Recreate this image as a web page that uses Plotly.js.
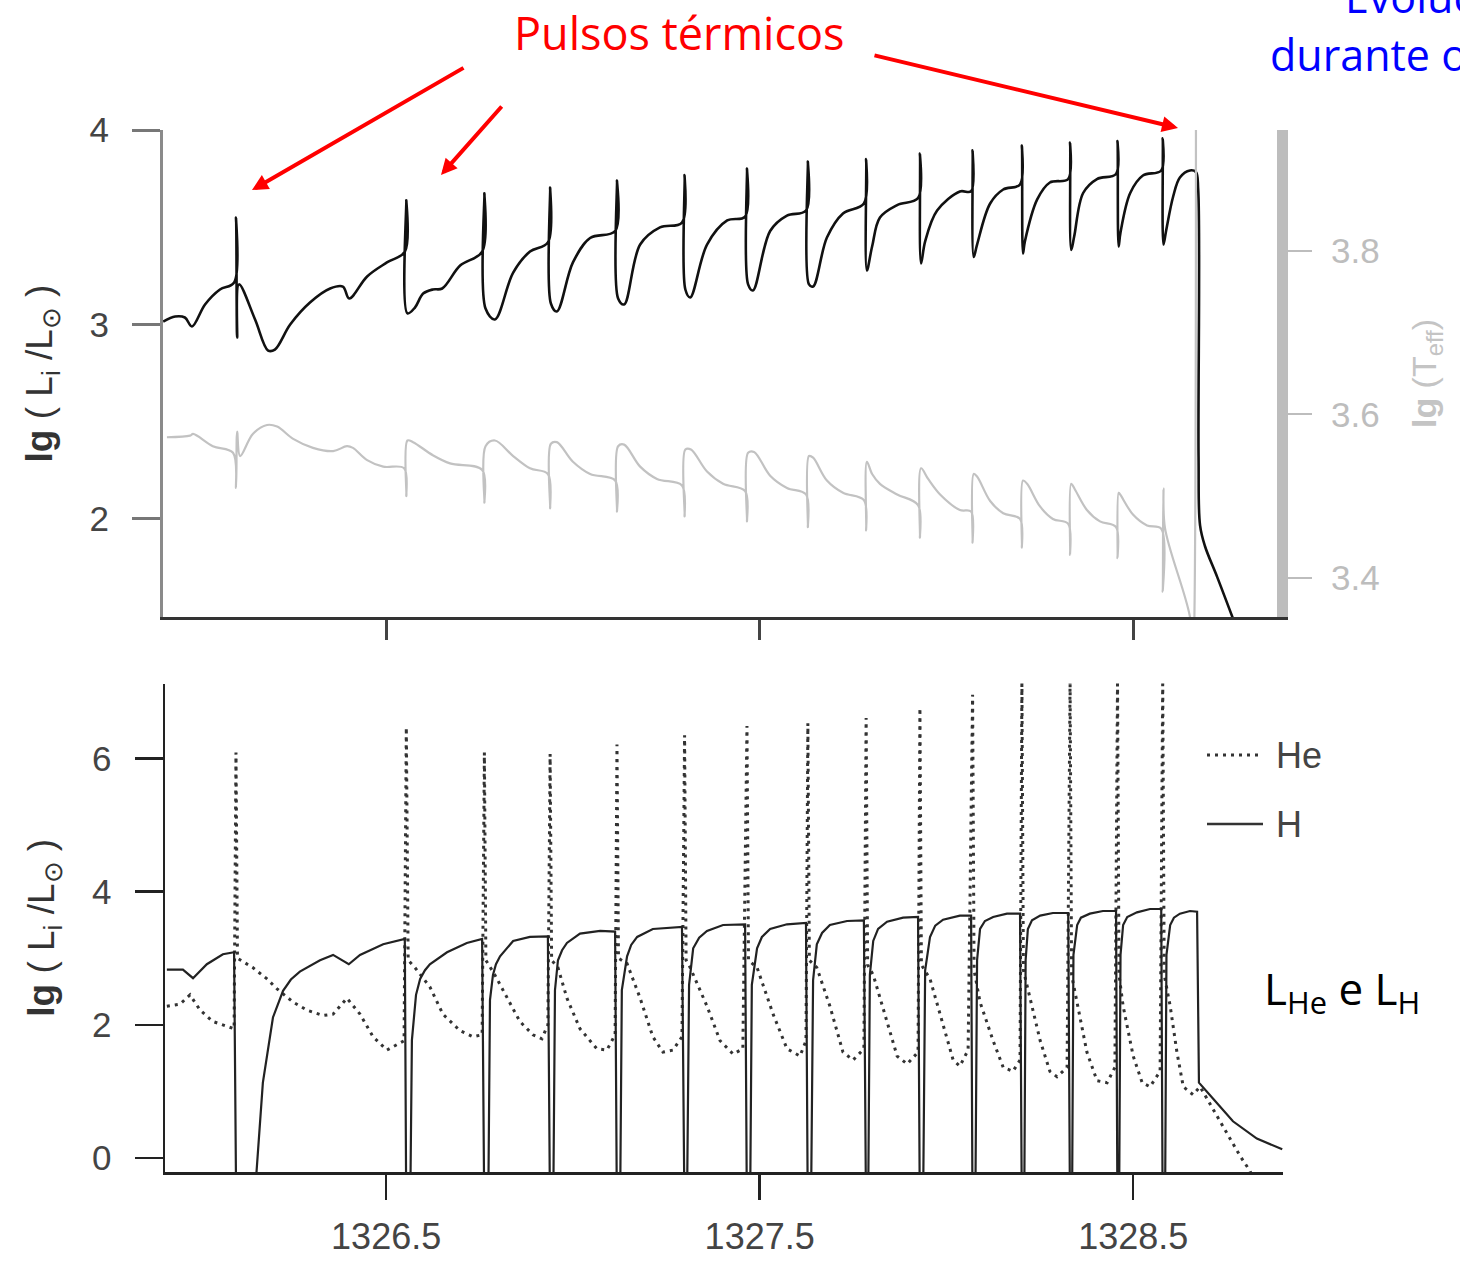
<!DOCTYPE html>
<html><head><meta charset="utf-8">
<script src="https://cdn.plot.ly/plotly-3.0.1.min.js"></script>
<style>html,body{margin:0;padding:0;background:#fff}#chart{width:1460px;height:1261px}</style>
</head><body><div id="chart"></div>
<script>
// ---------- DATA ----------
// Top panel: surface luminosity lg(L/Lsun) vs time
const lumTime = [1325.903, 1325.935, 1325.961, 1325.980, 1326.015, 1326.055, 1326.093,
 1326.098, 1326.101, 1326.106, 1326.149, 1326.184, 1326.202, 1326.243, 1326.296, 1326.350, 1326.384, 1326.401, 1326.449, 1326.502, 1326.550,
 1326.554, 1326.557, 1326.577, 1326.599, 1326.625, 1326.650, 1326.698, 1326.757,
 1326.763, 1326.766, 1326.791, 1326.840, 1326.885, 1326.933,
 1326.939, 1326.941, 1326.957, 1327.000, 1327.046, 1327.113,
 1327.118, 1327.121, 1327.137, 1327.180, 1327.233, 1327.292,
 1327.299, 1327.301, 1327.314, 1327.359, 1327.413, 1327.461,
 1327.466, 1327.469, 1327.482, 1327.528, 1327.573, 1327.624,
 1327.629, 1327.632, 1327.643, 1327.680, 1327.723, 1327.779,
 1327.785, 1327.787, 1327.801, 1327.822, 1327.868, 1327.924,
 1327.929, 1327.932, 1327.943, 1327.975, 1328.036, 1328.066,
 1328.070, 1328.073, 1328.082, 1328.117, 1328.152, 1328.197,
 1328.202, 1328.205, 1328.210, 1328.243, 1328.277, 1328.326,
 1328.331, 1328.334, 1328.342, 1328.366, 1328.403, 1328.454,
 1328.458, 1328.461, 1328.466, 1328.492, 1328.526, 1328.575,
 1328.579, 1328.581, 1328.588, 1328.607, 1328.625, 1328.652, 1328.668,
 1328.674, 1328.675, 1328.679, 1328.692, 1328.725, 1328.773];
const lumValue = [3.015, 3.041, 3.036, 2.990, 3.103, 3.180, 3.216,
 3.550, 2.933, 3.206, 3.026, 2.866, 2.871, 3.000, 3.113, 3.185, 3.195, 3.134, 3.247, 3.319, 3.375,
 3.638, 3.057, 3.087, 3.159, 3.180, 3.185, 3.303, 3.375,
 3.674, 3.082, 3.026, 3.267, 3.375, 3.422,
 3.704, 3.108, 3.067, 3.319, 3.445, 3.481,
 3.740, 3.134, 3.103, 3.411, 3.499, 3.524,
 3.769, 3.180, 3.139, 3.411, 3.535, 3.555,
 3.802, 3.206, 3.175, 3.481, 3.560, 3.586,
 3.838, 3.206, 3.195, 3.447, 3.571, 3.622,
 3.851, 3.278, 3.401, 3.550, 3.614, 3.650,
 3.879, 3.314, 3.427, 3.586, 3.684, 3.685,
 3.895, 3.347, 3.411, 3.622, 3.694, 3.720,
 3.920, 3.365, 3.427, 3.643, 3.730, 3.748,
 3.936, 3.383, 3.452, 3.676, 3.748, 3.774,
 3.943, 3.401, 3.473, 3.676, 3.766, 3.792,
 3.957, 3.411, 3.481, 3.658, 3.756, 3.792, 3.783,
 3.694, 2.316, 1.967, 1.861, 1.701, 1.458];

// Top panel: effective temperature lg(Teff) (right axis)
const teffTime = [1325.913, 1325.975, 1325.983, 1326.036, 1326.090,
 1326.098, 1326.101, 1326.109, 1326.143, 1326.181, 1326.208, 1326.251, 1326.304, 1326.358, 1326.395, 1326.411, 1326.449, 1326.492, 1326.548,
 1326.554, 1326.557, 1326.572, 1326.625, 1326.671, 1326.757,
 1326.763, 1326.766, 1326.791, 1326.840, 1326.885, 1326.933,
 1326.939, 1326.941, 1326.957, 1327.000, 1327.046, 1327.113,
 1327.118, 1327.121, 1327.137, 1327.180, 1327.225, 1327.292,
 1327.299, 1327.301, 1327.316, 1327.359, 1327.402, 1327.461,
 1327.466, 1327.469, 1327.485, 1327.528, 1327.573, 1327.624,
 1327.629, 1327.632, 1327.643, 1327.680, 1327.723, 1327.779,
 1327.785, 1327.787, 1327.801, 1327.822, 1327.868, 1327.924,
 1327.929, 1327.932, 1327.951, 1327.983, 1328.036, 1328.066,
 1328.070, 1328.073, 1328.082, 1328.117, 1328.152, 1328.197,
 1328.202, 1328.205, 1328.216, 1328.251, 1328.285, 1328.326,
 1328.331, 1328.334, 1328.344, 1328.376, 1328.411, 1328.454,
 1328.458, 1328.461, 1328.465, 1328.500, 1328.537, 1328.575,
 1328.579, 1328.581, 1328.585, 1328.652, 1328.660, 1328.668];
const teffValue = [3.572, 3.574, 3.576, 3.561, 3.553,
 3.510, 3.579, 3.549, 3.576, 3.587, 3.585, 3.570, 3.559, 3.555, 3.561, 3.559, 3.544, 3.536, 3.534,
 3.500, 3.568, 3.566, 3.550, 3.540, 3.532,
 3.492, 3.561, 3.568, 3.549, 3.534, 3.527,
 3.485, 3.564, 3.566, 3.542, 3.527, 3.519,
 3.481, 3.561, 3.563, 3.536, 3.521, 3.513,
 3.475, 3.557, 3.557, 3.530, 3.515, 3.506,
 3.469, 3.553, 3.554, 3.525, 3.510, 3.502,
 3.462, 3.549, 3.547, 3.519, 3.504, 3.495,
 3.458, 3.542, 3.527, 3.515, 3.502, 3.489,
 3.449, 3.534, 3.521, 3.502, 3.483, 3.481,
 3.443, 3.527, 3.524, 3.494, 3.479, 3.472,
 3.437, 3.519, 3.515, 3.487, 3.472, 3.466,
 3.428, 3.515, 3.508, 3.483, 3.469, 3.462,
 3.424, 3.504, 3.502, 3.477, 3.464, 3.460,
 3.383, 3.509, 3.461, 3.352, 3.300, 3.985];

// Bottom panel: helium-burning luminosity (dotted)
const heTime = [1325.913, 1325.948, 1325.975, 1326.002, 1326.036, 1326.093,
 1326.098, 1326.102, 1326.143, 1326.181, 1326.208, 1326.251, 1326.288, 1326.331, 1326.358, 1326.395, 1326.430, 1326.465, 1326.502, 1326.548,
 1326.554, 1326.559, 1326.577, 1326.617, 1326.652, 1326.698, 1326.733, 1326.757,
 1326.763, 1326.767, 1326.791, 1326.824, 1326.858, 1326.893, 1326.917, 1326.933,
 1326.939, 1326.943, 1326.960, 1326.984, 1327.019, 1327.064, 1327.091, 1327.113,
 1327.118, 1327.122, 1327.145, 1327.180, 1327.214, 1327.241, 1327.268, 1327.292,
 1327.299, 1327.303, 1327.314, 1327.359, 1327.394, 1327.429, 1327.455,
 1327.466, 1327.470, 1327.493, 1327.536, 1327.573, 1327.608, 1327.624,
 1327.629, 1327.633, 1327.653, 1327.688, 1327.723, 1327.750, 1327.779,
 1327.785, 1327.789, 1327.804, 1327.841, 1327.868, 1327.895, 1327.924,
 1327.929, 1327.933, 1327.956, 1327.991, 1328.018, 1328.036, 1328.058,
 1328.070, 1328.074, 1328.090, 1328.125, 1328.152, 1328.178, 1328.197,
 1328.202, 1328.206, 1328.224, 1328.251, 1328.277, 1328.296, 1328.323,
 1328.331, 1328.335, 1328.352, 1328.376, 1328.403, 1328.430, 1328.451,
 1328.458, 1328.462, 1328.473, 1328.500, 1328.524, 1328.545, 1328.572,
 1328.579, 1328.583, 1328.599, 1328.617, 1328.634, 1328.660, 1328.679, 1328.714, 1328.751, 1328.786, 1328.813, 1328.840];
const heValue = [2.28, 2.31, 2.45, 2.22, 2.05, 1.94,
 6.09, 3.00, 2.86, 2.69, 2.54, 2.34, 2.22, 2.14, 2.16, 2.40, 2.16, 1.82, 1.62, 1.76,
 6.47, 2.97, 2.86, 2.57, 2.16, 1.91, 1.82, 1.85,
 6.09, 2.97, 2.75, 2.40, 2.05, 1.85, 1.79, 2.00,
 6.07, 2.97, 2.86, 2.40, 1.94, 1.64, 1.62, 1.85,
 6.21, 3.00, 2.92, 2.40, 1.82, 1.59, 1.62, 1.82,
 6.35, 2.97, 2.86, 2.28, 1.76, 1.56, 1.64,
 6.49, 2.97, 2.86, 2.16, 1.64, 1.53, 1.76,
 6.53, 2.97, 2.86, 2.28, 1.59, 1.47, 1.64,
 6.61, 2.90, 2.75, 2.05, 1.53, 1.41, 1.59,
 6.76, 2.90, 2.69, 1.99, 1.47, 1.38, 1.62,
 6.96, 2.82, 2.34, 1.76, 1.36, 1.30, 1.47,
 7.18, 2.82, 2.40, 1.76, 1.30, 1.22, 1.36,
 7.18, 2.75, 2.28, 1.59, 1.16, 1.13, 1.36,
 7.18, 2.75, 2.28, 1.53, 1.13, 1.07, 1.30,
 7.18, 2.75, 2.28, 1.59, 1.07, 0.95, 1.07, 0.72, 0.37, 0.03, -0.20, -0.63];

// Bottom panel: hydrogen-burning luminosity (solid); -1 = far below the axis
const hTime = [1325.913, 1325.956, 1325.983, 1326.020, 1326.063, 1326.093,
 1326.099, 1326.143, 1326.170, 1326.197, 1326.224, 1326.245, 1326.269, 1326.323, 1326.358, 1326.400, 1326.430, 1326.492, 1326.550,
 1326.554, 1326.564, 1326.569, 1326.580, 1326.591, 1326.604, 1326.617, 1326.663, 1326.716, 1326.757,
 1326.763, 1326.773, 1326.778, 1326.786, 1326.794, 1326.805, 1326.840, 1326.885, 1326.933,
 1326.939, 1326.947, 1326.952, 1326.960, 1326.971, 1326.984, 1327.019, 1327.073, 1327.113,
 1327.118, 1327.126, 1327.131, 1327.145, 1327.156, 1327.172, 1327.214, 1327.292,
 1327.299, 1327.305, 1327.311, 1327.322, 1327.338, 1327.359, 1327.402, 1327.461,
 1327.466, 1327.474, 1327.479, 1327.493, 1327.506, 1327.528, 1327.573, 1327.624,
 1327.629, 1327.637, 1327.643, 1327.653, 1327.667, 1327.688, 1327.734, 1327.779,
 1327.785, 1327.790, 1327.795, 1327.804, 1327.817, 1327.841, 1327.884, 1327.924,
 1327.929, 1327.937, 1327.943, 1327.956, 1327.970, 1327.991, 1328.036, 1328.066,
 1328.070, 1328.077, 1328.082, 1328.090, 1328.103, 1328.125, 1328.162, 1328.197,
 1328.202, 1328.208, 1328.212, 1328.218, 1328.229, 1328.251, 1328.285, 1328.326,
 1328.331, 1328.336, 1328.340, 1328.350, 1328.360, 1328.384, 1328.419, 1328.454,
 1328.458, 1328.462, 1328.466, 1328.473, 1328.484, 1328.510, 1328.545, 1328.575,
 1328.579, 1328.585, 1328.589, 1328.599, 1328.609, 1328.625, 1328.652, 1328.671,
 1328.676, 1328.714, 1328.767, 1328.831, 1328.899];
const hValue = [2.83, 2.83, 2.70, 2.91, 3.06, 3.09,
 -1, -1, 1.13, 2.11, 2.51, 2.68, 2.80, 2.97, 3.05, 2.91, 3.05, 3.21, 3.29,
 -1, -1, 1.77, 2.45, 2.69, 2.82, 2.91, 3.09, 3.23, 3.29,
 -1, -1, 2.37, 2.75, 2.91, 3.03, 3.26, 3.32, 3.33,
 -1, -1, 2.52, 2.97, 3.12, 3.23, 3.37, 3.41, 3.40,
 -1, -1, 2.52, 3.03, 3.20, 3.32, 3.44, 3.47,
 -1, -1, 2.60, 3.15, 3.31, 3.41, 3.50, 3.51,
 -1, -1, 2.60, 3.15, 3.32, 3.44, 3.51, 3.53,
 -1, -1, 2.67, 3.21, 3.38, 3.50, 3.56, 3.57,
 -1, -1, 2.75, 3.26, 3.44, 3.55, 3.61, 3.62,
 -1, -1, 2.82, 3.32, 3.49, 3.58, 3.64, 3.64,
 -1, -1, 2.97, 3.44, 3.56, 3.62, 3.67, 3.67,
 -1, -1, 2.97, 3.44, 3.57, 3.64, 3.68, 3.68,
 -1, -1, 3.05, 3.50, 3.61, 3.67, 3.71, 3.71,
 -1, -1, 3.05, 3.50, 3.62, 3.69, 3.74, 3.74,
 -1, -1, 3.05, 3.50, 3.61, 3.67, 3.71, 3.70,
 1.13, 0.89, 0.55, 0.29, 0.13];

// Ticks
const timeTicks = [1326.5, 1327.5, 1328.5];
const timeTickText = ['1326.5', '1327.5', '1328.5'];
const lumTopTicks = [2, 3, 4];
const teffTicks = [3.4, 3.6, 3.8];
const lumBottomTicks = [0, 2, 4, 6];
const legendNames = ['He', 'H'];

// ---------- LAYOUT HELPERS (pixel -> paper) ----------
const W = 1460, H = 1261;
const px = x => x / W;
const py = y => 1 - y / H;

const sans = 'Liberation Sans, Arial, sans-serif';
const tickFont = {family: sans, size: 35, color: '#444'};
const handFont = 'Open Sans, Noto Sans, sans-serif';

const traces = [
  {x: lumTime, y: lumValue, xaxis: 'x', yaxis: 'y', type: 'scatter', mode: 'lines',
   line: {color: '#111', width: 2.6, shape: 'spline', smoothing: 1}, name: 'L', hoverinfo: 'skip'},
  {x: teffTime, y: teffValue, xaxis: 'x', yaxis: 'y2', type: 'scatter', mode: 'lines',
   line: {color: '#c2c2c2', width: 2.2, shape: 'spline', smoothing: 1}, name: 'Teff', hoverinfo: 'skip'},
  {x: heTime, y: heValue, xaxis: 'x2', yaxis: 'y3', type: 'scatter', mode: 'lines',
   line: {color: '#333', width: 3, dash: '3px,5px'}, name: legendNames[0], hoverinfo: 'skip'},
  {x: hTime, y: hValue, xaxis: 'x2', yaxis: 'y3', type: 'scatter', mode: 'lines',
   line: {color: '#222', width: 2.2}, name: legendNames[1], hoverinfo: 'skip'}
];

const yTitleText = '<b>lg</b> ( L<sub>i</sub> /L<sub>⊙</sub> )';

const layout = {
  width: W, height: H,
  margin: {l: 0, r: 0, t: 0, b: 0, pad: 0},
  paper_bgcolor: '#fff', plot_bgcolor: 'rgba(0,0,0,0)',
  showlegend: false,
  xaxis: {
    domain: [px(163), px(1277)], range: [1325.9025, 1328.885], anchor: 'y',
    tickvals: timeTicks, showticklabels: false, ticks: 'outside', ticklen: 20, tickwidth: 3, tickcolor: '#444',
    showline: true, linecolor: '#333', linewidth: 3, showgrid: false, zeroline: false
  },
  yaxis: {
    domain: [py(617), py(130)], range: [1.496, 4.0], anchor: 'x',
    tickvals: lumTopTicks, ticks: 'outside', ticklen: 28, tickwidth: 3, tickcolor: '#777',
    showline: true, linecolor: '#8a8a8a', linewidth: 3, showgrid: false, zeroline: false,
    tickfont: tickFont, ticklabelstandoff: 16,
    title: {text: yTitleText, font: {family: sans, size: 37, color: '#333'}, standoff: 26}
  },
  yaxis2: {
    overlaying: 'y', side: 'right', anchor: 'x', range: [3.352, 3.948],
    tickvals: teffTicks, ticktext: ['3.4', '3.6', '3.8'], ticks: 'outside', ticklen: 24, tickwidth: 2, tickcolor: '#bdbdbd',
    showline: true, linecolor: '#bdbdbd', linewidth: 11, showgrid: false, zeroline: false,
    tickfont: {family: sans, size: 35, color: '#bdbdbd'}, ticklabelstandoff: 12,
    title: {text: '<b>lg</b> (T<sub>eff</sub>)', font: {family: sans, size: 34, color: '#c4c4c4'}, standoff: 38}
  },
  xaxis2: {
    domain: [px(165), px(1283)], range: [1325.908, 1328.901], anchor: 'y3',
    tickvals: timeTicks, ticktext: timeTickText, ticks: 'outside', ticklen: 25, tickwidth: 2.5, tickcolor: '#222',
    showline: true, linecolor: '#222', linewidth: 2.5, showgrid: false, zeroline: false,
    tickfont: {family: sans, size: 36, color: '#444'}, ticklabelstandoff: 6
  },
  yaxis3: {
    domain: [py(1172), py(683.6)], range: [-0.212, 7.127], anchor: 'x2',
    tickvals: lumBottomTicks, ticks: 'outside', ticklen: 28, tickwidth: 2.5, tickcolor: '#222',
    showline: true, linecolor: '#222', linewidth: 2.5, showgrid: false, zeroline: false,
    tickfont: tickFont, ticklabelstandoff: 16,
    title: {text: yTitleText, font: {family: sans, size: 37, color: '#333'}, standoff: 26}
  },
  shapes: [
    {type: 'line', xref: 'paper', yref: 'paper', x0: px(1207), x1: px(1258), y0: py(755), y1: py(755),
     line: {color: '#333', width: 3, dash: '3px,5px'}},
    {type: 'line', xref: 'paper', yref: 'paper', x0: px(1207), x1: px(1263), y0: py(824), y1: py(824),
     line: {color: '#333', width: 2.6}}
  ],
  annotations: [
    {xref: 'paper', yref: 'paper', x: px(1274), y: py(755), xanchor: 'left', yanchor: 'middle', showarrow: false,
     text: legendNames[0], font: {family: sans, size: 36, color: '#444'}},
    {xref: 'paper', yref: 'paper', x: px(1274), y: py(824), xanchor: 'left', yanchor: 'middle', showarrow: false,
     text: legendNames[1], font: {family: sans, size: 36, color: '#444'}},
    {xref: 'paper', yref: 'paper', x: px(679), y: py(32), xanchor: 'center', yanchor: 'middle', showarrow: false,
     text: 'Pulsos térmicos', font: {family: handFont, size: 45, color: '#ff0000'}},
    {xref: 'paper', yref: 'paper', x: px(1343), y: py(-4), xanchor: 'left', yanchor: 'middle', showarrow: false,
     text: 'Evolução', font: {family: handFont, size: 43, color: '#0000ff'}},
    {xref: 'paper', yref: 'paper', x: px(1268), y: py(55), xanchor: 'left', yanchor: 'middle', showarrow: false,
     text: 'durante o', font: {family: handFont, size: 43, color: '#0000ff'}},
    {xref: 'paper', yref: 'paper', x: px(1262), y: py(990), xanchor: 'left', yanchor: 'middle', showarrow: false,
     text: 'L<sub>He</sub> e L<sub>H</sub>', font: {family: handFont, size: 44, color: '#000'}},
    {xref: 'paper', yref: 'paper', x: px(252), y: py(190), ax: 213, ay: -123, axref: 'pixel', ayref: 'pixel',
     text: '', showarrow: true, arrowhead: 2, arrowsize: 0.8, arrowwidth: 4, arrowcolor: '#ff0000'},
    {xref: 'paper', yref: 'paper', x: px(441), y: py(175), ax: 62, ay: -70, axref: 'pixel', ayref: 'pixel',
     text: '', showarrow: true, arrowhead: 2, arrowsize: 0.8, arrowwidth: 4, arrowcolor: '#ff0000'},
    {xref: 'paper', yref: 'paper', x: px(1178), y: py(128), ax: -305, ay: -73, axref: 'pixel', ayref: 'pixel',
     text: '', showarrow: true, arrowhead: 2, arrowsize: 0.8, arrowwidth: 4, arrowcolor: '#ff0000'}
  ]
};

Plotly.newPlot('chart', traces, layout, {staticPlot: true, displayModeBar: false});
</script></body></html>
